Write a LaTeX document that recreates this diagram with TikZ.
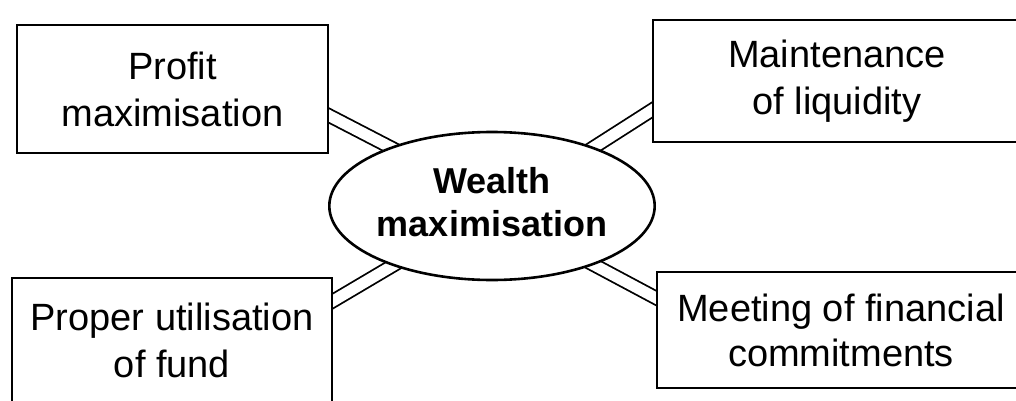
\documentclass[tikz,border=0pt]{standalone}
\usepackage{fontspec}
\setmainfont{Liberation Sans}
\usetikzlibrary{shapes.geometric,backgrounds}
\tikzset{
  box/.style={draw=black, line width=1.9pt, fill=white, rectangle, inner sep=0pt,
    align=center, font=\fontsize{38}{47}\selectfont},
  hub/.style={draw=black, line width=2.6pt, fill=white, ellipse, inner sep=0pt,
    minimum width=321pt, minimum height=148pt, align=center,
    font=\fontsize{36}{47}\selectfont\bfseries},
  link/.style={draw=black, line width=1.8pt, double=white, double distance=11pt,
    shorten <=-22pt, shorten >=-12pt}
}
\begin{document}
\begin{tikzpicture}[x=1pt,y=1pt]
\useasboundingbox (0,0) rectangle (1016,400);
\node[box, minimum width=311pt, minimum height=128pt] (tl) at (172.5,311) {Profit\\maximisation};
\node[box, minimum width=368pt, minimum height=122pt] (tr) at (837,319) {Maintenance\\of liquidity};
\node[box, minimum width=320pt, minimum height=124pt] (bl) at (172,60) {Proper utilisation\\of fund};
\node[box, minimum width=368pt, minimum height=116pt, font=\fontsize{38}{45}\selectfont] (br) at (841,70) {Meeting of financial\\commitments};
\node[hub] (e) at (492,194) {\raisebox{5pt}{\begin{tabular}{@{}c@{}}Wealth\\[-4pt]maximisation\end{tabular}}};
\begin{pgfonlayer}{background}
\fill[white] (0,0) rectangle (1016,400);
\draw[link] (e.150) -- ([yshift=-26.5pt]tl.east);
\draw[link] (e.30) -- ([yshift=-29pt]tr.west);
\draw[link] (e.211) -- ([yshift=39pt]bl.east);
\draw[link] (e.-30) -- ([yshift=32pt]br.west);
\end{pgfonlayer}
\end{tikzpicture}
\end{document}
